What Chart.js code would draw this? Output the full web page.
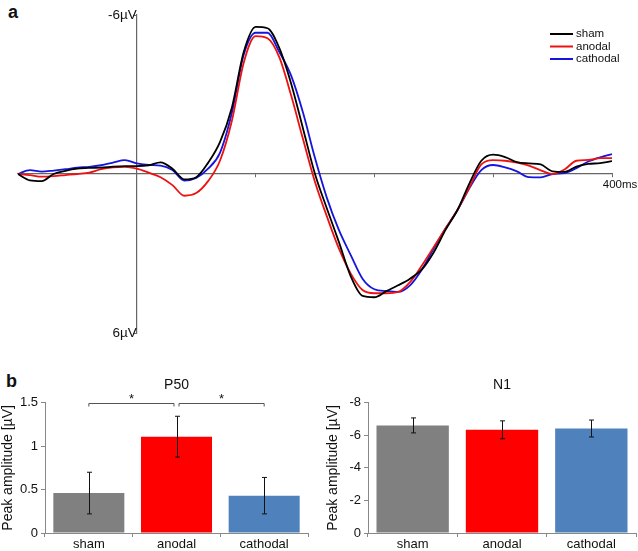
<!DOCTYPE html>
<html><head><meta charset="utf-8">
<script src="https://cdn.jsdelivr.net/npm/chart.js@4.4.1/dist/chart.umd.min.js"></script>
<style>
body{margin:0;background:#fff;width:638px;height:551px;position:relative;overflow:hidden;font-family:"Liberation Sans",Arial,sans-serif;}
canvas{position:absolute;}
.lab{position:absolute;font-weight:bold;font-size:18px;color:#111;line-height:20px;}
</style></head><body>
<div class="lab" style="left:8px;top:2px">a</div>
<div class="lab" style="left:6px;top:371px">b</div>
<canvas id="erp" width="638" height="345" style="left:0;top:0"></canvas>
<canvas id="p50" width="318" height="206" style="left:0;top:345px"></canvas>
<canvas id="n1" width="320" height="206" style="left:318px;top:345px"></canvas>
<script>
// ---- panel a: ERP waveforms (ms, µV) ----
const times = [-100,-90,-80,-70,-60,-50,-40,-30,-20,-10,0,10,20,30,40,50,60,70,80,90,100,110,120,130,140,150,160,170,180,190,200,210,220,230,240,250,260,270,280,290,300,310,320,330,340,350,360,370,380,390,400];
const sham = [0,0.24,0.27,0.0,-0.12,-0.2,-0.23,-0.24,-0.28,-0.3, -0.3,-0.33,-0.44,-0.2,0.2,0.12,-0.42,-1.2,-2.5,-4.6, -5.55,-5.5,-4.75,-3.4,-1.7,0,1.3,2.55,3.85,4.6, 4.65,4.42,4.2,3.95,3.6,2.95,2.1,1.35,0.35,-0.5, -0.73,-0.64,-0.45,-0.4,-0.36,-0.1,-0.08,-0.28,-0.38,-0.41,-0.49];
const anodal = [0,0.04,0.1,0.08,0.04,0,-0.05,-0.18,-0.25,-0.27, -0.2,-0.05,0.12,0.42,0.82,0.72,0.27,-0.5,-2.0,-4.2, -5.2,-5.12,-4.4,-2.95,-1.3,0.3,1.6,2.8,3.75,4.38, 4.5,4.5,4.45,4.08,3.45,2.75,2.05,1.35,0.5,-0.36, -0.52,-0.5,-0.43,-0.32,-0.14,0,-0.17,-0.5,-0.53,-0.6,-0.6];
const cathodal = [0,-0.15,-0.09,-0.13,-0.18,-0.24,-0.27,-0.33,-0.43,-0.52, -0.4,-0.34,-0.32,-0.15,0.25,0.15,-0.2,-0.8,-2.3,-4.5, -5.33,-5.33,-4.6,-3.7,-2.3,-0.6,0.9,2.1,3.05,3.95, 4.35,4.42,4.45,4.2,3.6,2.8,2.05,1.36,0.53,-0.15, -0.34,-0.25,-0.1,0.12,0.13,0,-0.03,-0.22,-0.47,-0.63,-0.75];
const erpXTicks = [100,200,300,400];
const erpYTicks = [-6,6];

// ---- panel b: peak amplitudes ----
const conditions = ['sham','anodal','cathodal'];
const p50Means = [0.46,1.11,0.43];
const p50Err = [0.24,0.235,0.21];
const p50Ticks = [0,0.5,1,1.5];
const n1Means = [-6.61,-6.34,-6.42];
const n1Err = [0.46,0.55,0.52];
const n1Ticks = [-8,-7,-6,-5,-4,-3,-2,-1,0];
const n1Labeled = [-8,-6,-4,-2,0];
const sigPairs = [[0,1],[1,2]];
const sigLevel = 1.5;

Chart.defaults.font.family = '"Liberation Sans", Arial, sans-serif';
Chart.defaults.color = '#111';

const FONT = '"Liberation Sans", Arial, sans-serif';

const legendPlugin = {
  id: 'erpLegend',
  afterDraw(chart) {
    const ctx = chart.ctx;
    ctx.save();
    ctx.font = '11.5px ' + FONT;
    ctx.textBaseline = 'middle';
    chart.data.datasets.forEach((ds, i) => {
      const y = 34 + i * 12.5;
      ctx.strokeStyle = ds.borderColor;
      ctx.lineWidth = 2;
      ctx.beginPath(); ctx.moveTo(550, y); ctx.lineTo(573, y); ctx.stroke();
      ctx.fillStyle = '#111';
      ctx.fillText(ds.label, 576, y);
    });
    ctx.restore();
  }
};

const errPlugin = {
  id: 'errbars',
  afterDatasetsDraw(chart, args, opts) {
    const ctx = chart.ctx, ys = chart.scales.y;
    const meta = chart.getDatasetMeta(0);
    const vals = chart.data.datasets[0].data;
    ctx.save();
    ctx.strokeStyle = '#111'; ctx.lineWidth = 1;
    meta.data.forEach((bar, i) => {
      const x = Math.round(bar.x) + 0.5;
      const y1 = ys.getPixelForValue(vals[i] + opts.errors[i]);
      const y2 = ys.getPixelForValue(vals[i] - opts.errors[i]);
      ctx.beginPath();
      ctx.moveTo(x, y1); ctx.lineTo(x, y2);
      ctx.moveTo(x - 2.5, y1); ctx.lineTo(x + 2.5, y1);
      ctx.moveTo(x - 2.5, y2); ctx.lineTo(x + 2.5, y2);
      ctx.stroke();
    });
    ctx.restore();
  }
};

const sigPlugin = {
  id: 'sig',
  afterDraw(chart, args, opts) {
    if (!opts.pairs) return;
    const ctx = chart.ctx, xs = chart.scales.x, ys = chart.scales.y;
    const y = Math.round(ys.getPixelForValue(opts.level)) + 0.5;
    ctx.save();
    ctx.strokeStyle = '#555'; ctx.lineWidth = 1;
    ctx.fillStyle = '#111';
    ctx.font = '13px ' + FONT;
    ctx.textAlign = 'center'; ctx.textBaseline = 'middle';
    opts.pairs.forEach(([a, b]) => {
      const xa = xs.getPixelForValue(a) + (a === 1 ? 2.5 : 0);
      const xb = xs.getPixelForValue(b) - (b === 1 ? 2.5 : 0);
      ctx.beginPath();
      ctx.moveTo(xa, y + 3); ctx.lineTo(xa, y); ctx.lineTo(xb, y); ctx.lineTo(xb, y + 3);
      ctx.stroke();
      ctx.fillText('*', (xa + xb) / 2, y - 4);
    });
    ctx.restore();
  }
};

const mk = (arr) => times.map((t, i) => ({x: t, y: arr[i]}));

new Chart(document.getElementById('erp'), {
  type: 'line',
  data: {datasets: [
    {label: 'sham', data: mk(sham), borderColor: '#000000', borderWidth: 1.8, pointRadius: 0, cubicInterpolationMode: 'monotone', fill: false},
    {label: 'anodal', data: mk(anodal), borderColor: '#ee1111', borderWidth: 1.8, pointRadius: 0, cubicInterpolationMode: 'monotone', fill: false},
    {label: 'cathodal', data: mk(cathodal), borderColor: '#1515dd', borderWidth: 1.8, pointRadius: 0, cubicInterpolationMode: 'monotone', fill: false}
  ]},
  options: {
    responsive: false, animation: false, events: [],
    layout: {padding: {left: 18, right: 26, top: 15, bottom: 12}},
    plugins: {legend: {display: false}, tooltip: {enabled: false}},
    scales: {
      x: {
        type: 'linear', min: -100, max: 400, position: {y: 0},
        afterBuildTicks: s => { s.ticks = erpXTicks.map(v => ({value: v})); },
        grid: {drawOnChartArea: false, drawTicks: true, tickLength: 3, color: '#666'},
        border: {color: '#666', width: 1.2},
        ticks: {callback: v => v === 400 ? '400ms' : '', font: {size: 11.5}, color: '#111', maxRotation: 0, autoSkip: false, padding: 1, labelOffset: 8}
      },
      y: {
        type: 'linear', min: -6, max: 6, reverse: true, position: {x: 0},
        afterBuildTicks: s => { s.ticks = erpYTicks.map(v => ({value: v})); },
        grid: {drawOnChartArea: false, drawTicks: true, tickLength: 3, color: '#666'},
        border: {color: '#666', width: 1.2},
        ticks: {callback: v => v + 'µV', font: {size: 13.5}, color: '#111', padding: 1}
      }
    }
  },
  plugins: [legendPlugin]
});

function barChart(id, means, errs, ticks, labeled, title, ymin, ymax, rev, yw, rightPad, titlePadTop, sig) {
  return new Chart(document.getElementById(id), {
    type: 'bar',
    data: {labels: conditions, datasets: [{data: means, backgroundColor: ['#808080', '#ff0000', '#4f81bd'], barPercentage: 0.81, categoryPercentage: 1}]},
    options: {
      responsive: false, animation: false, events: [],
      layout: {padding: {left: 0, right: rightPad, top: 0, bottom: 0}},
      plugins: {
        legend: {display: false}, tooltip: {enabled: false},
        title: {display: true, text: title, fullSize: false, font: {size: 14, weight: 'normal'}, color: '#111', padding: {top: 32, bottom: 9}},
        errbars: {errors: errs},
        sig: sig || {}
      },
      scales: {
        x: {
          grid: {offset: true, drawOnChartArea: false, tickLength: 4, color: '#888'},
          border: {color: '#888'},
          ticks: {font: {size: 13}, color: '#111', padding: 0},
          afterFit: s => { s.height = 18; }
        },
        y: {
          min: ymin, max: ymax, reverse: rev,
          afterBuildTicks: s => { s.ticks = ticks.map(v => ({value: v})); },
          ticks: {font: {size: 13}, color: '#111', padding: 3, callback: v => labeled.includes(v) ? String(v) : ''},
          grid: {drawOnChartArea: false, tickLength: 4, color: '#888'},
          border: {color: '#888'},
          title: {display: true, text: 'Peak amplitude [µV]', font: {size: 14}, color: '#111', padding: {top: titlePadTop, bottom: 0}},
          afterFit: s => { s.width = yw; }
        }
      }
    },
    plugins: [errPlugin, sigPlugin]
  });
}

barChart('p50', p50Means, p50Err, p50Ticks, p50Ticks, 'P50', 0, 1.5, false, 45, 10, 0, {pairs: sigPairs, level: sigLevel});
barChart('n1', n1Means, n1Err, n1Ticks, n1Labeled, 'N1', -8, 0, true, 50, 2, 7, null);
</script>
</body></html>
